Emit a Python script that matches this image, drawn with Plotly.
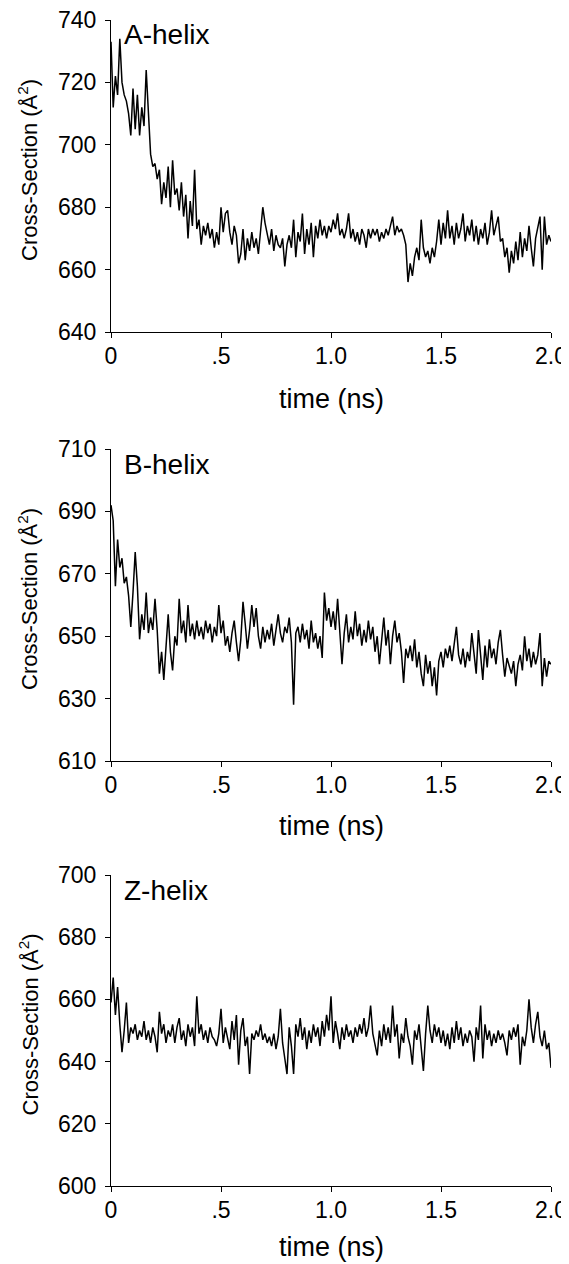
import plotly.graph_objects as go

# cross-section vs simulation time, sampled every 0.01 ns from 0 to 2.0 ns
a_helix = [
    733, 712, 722, 716, 734, 720, 716, 714, 710, 703,
    718, 705, 716, 703, 712, 706, 724, 708, 697, 693,
    694, 689, 692, 681, 688, 683, 693, 680, 695, 684,
    686, 679, 688, 677, 684, 670, 682, 674, 692, 673,
    676, 668, 674, 671, 675, 670, 673, 667, 672, 668,
    680, 672, 678, 679, 672, 668, 674, 671, 662, 665,
    673, 663, 670, 666, 672, 667, 670, 665, 672, 680,
    675, 671, 668, 673, 666, 671, 668, 667, 670, 661,
    668, 671, 667, 676, 664, 672, 669, 678, 665, 673,
    668, 675, 664, 674, 670, 676, 671, 674, 670, 674,
    672, 676, 673, 678, 671, 673, 670, 673, 678, 670,
    673, 669, 672, 668, 673, 671, 667, 673, 670, 673,
    671, 673, 669, 672, 670, 673, 671, 674, 677, 671,
    674, 672, 673, 671, 668, 656, 662, 658, 664, 667,
    663, 676, 667, 664, 666, 662, 667, 664, 669, 676,
    668, 675, 670, 679, 670, 674, 668, 675, 670, 673,
    678, 669, 674, 671, 676, 669, 674, 668, 673, 670,
    675, 668, 672, 679, 671, 674, 677, 669, 670, 664,
    667, 659, 666, 662, 669, 663, 672, 664, 670, 666,
    674, 667, 661, 670, 674, 677, 660, 677, 668, 671,
    669,
]

b_helix = [
    692, 687, 666, 681, 672, 675, 667, 669, 663, 653,
    664, 677, 666, 649, 657, 652, 664, 651, 656, 652,
    662, 652, 638, 645, 636, 648, 657, 645, 639, 650,
    647, 662, 651, 655, 648, 660, 650, 654, 649, 655,
    650, 653, 649, 655, 651, 654, 648, 653, 650, 660,
    651, 655, 647, 650, 645, 651, 655, 648, 642, 649,
    661, 654, 646, 652, 660, 653, 659, 650, 646, 653,
    648, 652, 649, 654, 647, 652, 657, 651, 648, 653,
    651, 656, 648, 628, 651, 653, 648, 654, 649, 652,
    646, 655, 648, 651, 646, 650, 643, 664, 655, 659,
    653, 658, 652, 662, 650, 641, 651, 657, 648, 653,
    649, 658, 650, 654, 647, 652, 648, 655, 649, 653,
    645, 650, 641, 649, 656, 647, 652, 641, 650, 655,
    648, 651, 645, 635, 646, 643, 647, 642, 649, 640,
    645, 638, 634, 644, 638, 642, 634, 640, 631, 642,
    645, 640, 646, 643, 647, 642, 648, 653, 644, 641,
    646, 640, 645, 642, 651, 645, 638, 652, 643, 636,
    647, 640, 649, 643, 646, 641, 648, 652, 644, 637,
    643, 640, 638, 642, 634, 641, 644, 639, 650, 642,
    646, 640, 645, 641, 644, 651, 634, 643, 637, 642,
    641,
]

z_helix = [
    659, 667, 655, 664, 652, 643, 650, 659, 646, 651,
    649, 652, 647, 650, 648, 653, 647, 650, 646, 651,
    648, 643, 656, 649, 652, 646, 650, 648, 652, 646,
    651, 654, 647, 650, 645, 652, 648, 651, 645, 661,
    649, 652, 647, 650, 646, 651, 648, 647, 645, 649,
    657, 646, 651, 648, 644, 653, 647, 655, 639, 650,
    654, 645, 648, 636, 649, 647, 650, 648, 652, 647,
    649, 646, 648, 645, 649, 644, 648, 657, 646, 641,
    636, 651, 645, 636, 652, 648, 654, 647, 651, 644,
    650, 646, 652, 648, 651, 645, 653, 648, 655, 650,
    661, 646, 653, 649, 644, 651, 647, 652, 648, 650,
    646, 651, 648, 652, 649, 654, 648, 651, 658, 649,
    646, 642, 650, 645, 652, 647, 651, 646, 658, 648,
    652, 641, 649, 646, 654, 648, 645, 639, 650, 647,
    652, 645, 637, 649, 658, 650, 646, 652, 648, 651,
    646, 650, 645, 649, 644, 651, 646, 653, 647, 651,
    645, 649, 646, 650, 648, 640, 651, 647, 658, 641,
    652, 647, 650, 645, 649, 646, 650, 647, 649, 646,
    642, 650, 647, 651, 648, 652, 639, 648, 645, 650,
    660, 651, 646, 652, 656, 648, 645, 650, 644, 646,
    638,
]

panel_names = ["A-helix", "B-helix", "Z-helix"]
panel_series = [a_helix, b_helix, z_helix]
y_ranges = [[640, 740], [610, 710], [600, 700]]
x_tickvals = [0, 0.5, 1.0, 1.5, 2.0]
x_ticktext = ["0", ".5", "1.0", "1.5", "2.0"]

FONT = "Liberation Sans, Arial, Helvetica, sans-serif"
PAGE_W, PAGE_H = 569, 1264
BODY = 8  # default body margin of the html page
W, H = PAGE_W - BODY, PAGE_H - BODY

# plot area in page pixels
PX_LEFT, PX_RIGHT = 111, 551
panel_px = [(20, 332), (449, 761), (875, 1186)]
xtitle_gap = [67, 65, 61]
M_L = PX_LEFT - BODY
M_R = W - (PX_RIGHT - BODY)
M_T = panel_px[0][0] - BODY
M_B = H - (panel_px[-1][1] - BODY)
plot_h = H - M_T - M_B
plot_w = W - M_L - M_R


def py_paper(py):
    return (panel_px[-1][1] - py) / plot_h


def px_paper(px):
    return (px - PX_LEFT) / plot_w


axis_style = dict(
    ticks="outside", ticklen=5, tickwidth=1.3, tickcolor="black",
    showline=True, linecolor="black", linewidth=1.3,
    showgrid=False, zeroline=False, ticklabeloverflow="allow",
    tickfont=dict(family=FONT, size=23, color="black"),
)

fig = go.Figure()
annotations = []
for i, (name, vals, yr) in enumerate(zip(panel_names, panel_series, y_ranges)):
    n = "" if i == 0 else str(i + 1)
    top, bot = panel_px[i]
    dom = [max(0.0, py_paper(bot)), min(1.0, py_paper(top))]
    fig.add_trace(go.Scatter(
        x0=0, dx=0.01, y=vals,
        mode="lines",
        line=dict(color="black", width=1.5),
        xaxis="x" + n, yaxis="y" + n,
        showlegend=False,
    ))
    fig.layout["xaxis" + n] = dict(
        domain=[0, 1], anchor="y" + n, range=[0, 2.0],
        tickvals=x_tickvals, ticktext=x_ticktext,
        ticklabelstandoff=-2, **axis_style,
    )
    fig.layout["yaxis" + n] = dict(
        domain=dom, anchor="x" + n, range=yr,
        tickvals=list(range(yr[0], yr[1] + 1, 20)),
        ticklabelstandoff=4, **axis_style,
    )
    annotations.append(dict(
        text=name, xref="paper", yref="paper",
        x=px_paper(122), y=py_paper(top + 15), xanchor="left", yanchor="middle",
        showarrow=False, font=dict(family=FONT, size=28, color="black"),
    ))
    annotations.append(dict(
        text="time (ns)", xref="paper", yref="paper",
        x=0.5, y=py_paper(bot + xtitle_gap[i]), xanchor="center", yanchor="middle",
        showarrow=False, font=dict(family=FONT, size=27, color="black"),
    ))
    annotations.append(dict(
        text="Cross-Section (Å<sup>2</sup>)", xref="paper", yref="paper",
        x=px_paper(28), y=py_paper((top + bot) / 2 - 6),
        xanchor="center", yanchor="middle", textangle=-90,
        showarrow=False, font=dict(family=FONT, size=22, color="black"),
    ))

fig.update_layout(
    width=W, height=H,
    margin=dict(l=M_L, r=M_R, t=M_T, b=M_B, autoexpand=False),
    plot_bgcolor="white", paper_bgcolor="white",
    annotations=annotations,
)

fig.write_html("out.html")
